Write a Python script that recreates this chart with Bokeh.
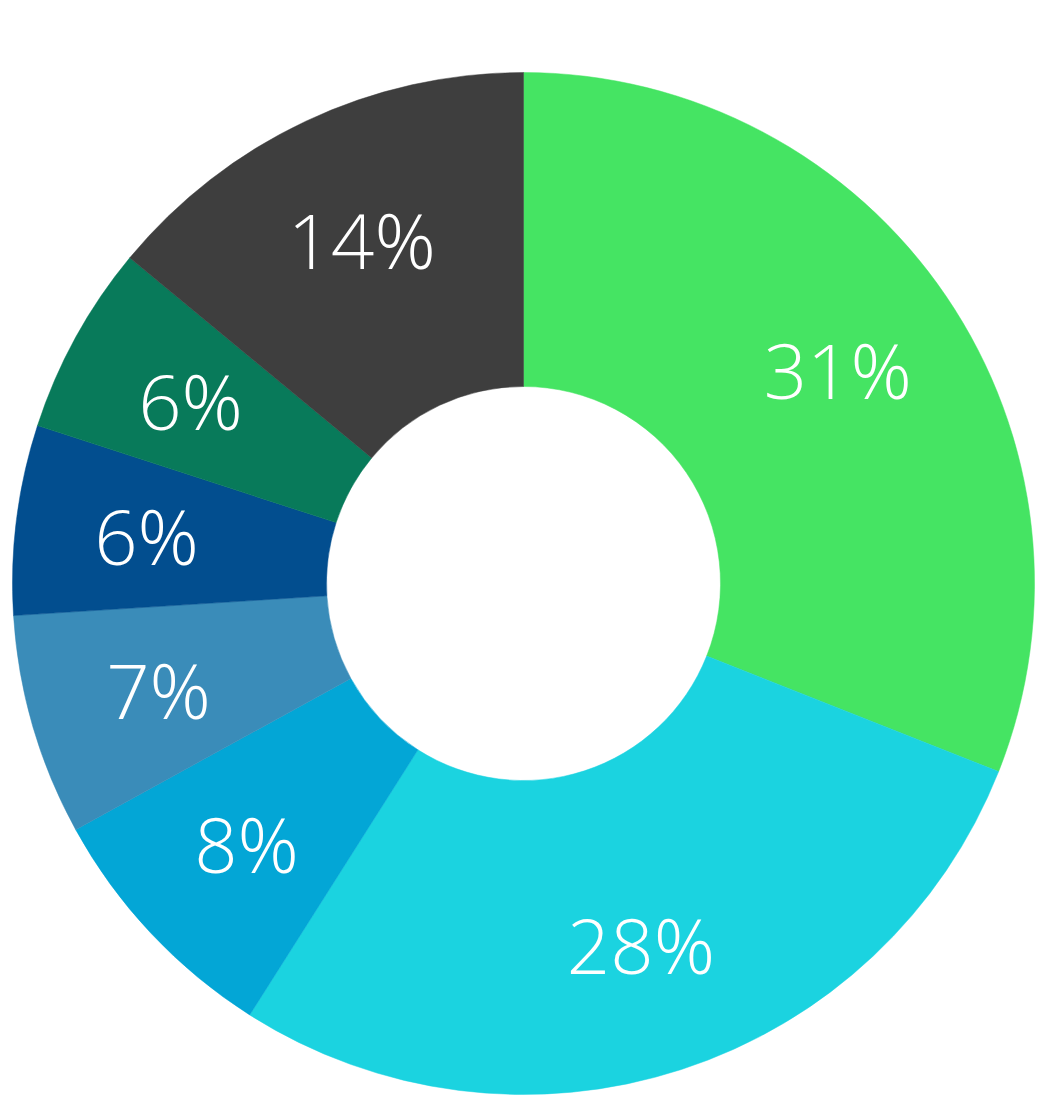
import math
from bokeh.plotting import figure
from bokeh.models import ColumnDataSource
from bokeh.core.properties import value
from bokeh.embed import file_html
from bokeh.resources import INLINE

labels = ["31%", "28%", "8%", "7%", "6%", "6%", "14%"]
shares = [31, 28, 8, 7, 6, 6, 14]
colors = ["#45E463", "#1BD3E0", "#03A6D6", "#3A8CB9", "#024E8F", "#087A5A", "#3E3E3E"]

W, H = 1036, 1096
cx, cy = 523, H - 583
r_out, r_in = 511, 197
r_lab = 380

total = float(sum(shares))
starts, ends, lx, ly = [], [], [], []
cum = 0.0
for s in shares:
    a0 = math.pi / 2 - 2 * math.pi * cum / total
    a1 = math.pi / 2 - 2 * math.pi * (cum + s) / total
    starts.append(a0)
    ends.append(a1)
    mid = (a0 + a1) / 2
    lx.append(cx + r_lab * math.cos(mid))
    ly.append(cy + r_lab * math.sin(mid))
    cum += s

src = ColumnDataSource(dict(start=starts, end=ends, color=colors, label=labels,
                            lx=lx, ly=ly, x=[cx] * len(shares), y=[cy] * len(shares)))

p = figure(width=W, height=H, x_range=(0, W), y_range=(0, H),
           output_backend="svg", toolbar_location=None, min_border=0)
p.axis.visible = False
p.grid.visible = False
p.outline_line_color = None
p.background_fill_color = "white"

p.annular_wedge(x="x", y="y", inner_radius=r_in, outer_radius=r_out,
                start_angle="start", end_angle="end", direction="clock",
                fill_color="color", line_color="color", line_width=0.5,
                source=src, inner_radius_units="screen", outer_radius_units="screen")

p.text(x="lx", y="ly", text="label", source=src, text_color="white",
       text_font=value("Open Sans Light, Open Sans"), text_font_size="76px",
       text_align="center", text_baseline="middle")

open("out.html", "w").write(file_html(p, INLINE))
